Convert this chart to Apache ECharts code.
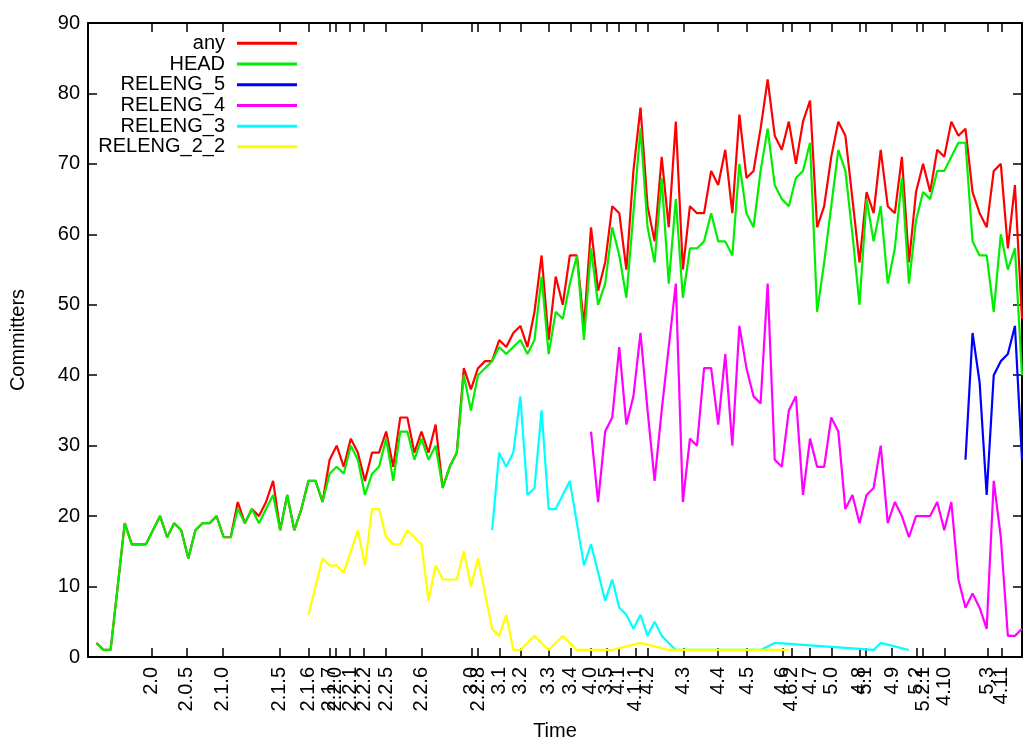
<!DOCTYPE html>
<html>
<head>
<meta charset="utf-8">
<script src="https://cdn.jsdelivr.net/npm/echarts@6/dist/echarts.min.js"></script>
<style>
html,body{margin:0;padding:0;background:#fff;}
#c{width:1035px;height:740px;}
</style>
</head>
<body>
<div id="c"></div>
<script>
// x = month index (one point per month), release ticks placed on the same month scale
const releaseNames = ['2.0','2.0.5','2.1.0','2.1.5','2.1.6','2.1.7','2.2.0','2.2.1','2.2.2','2.2.5','2.2.6','3.0','2.2.8','3.1','3.2','3.3','3.4','4.0','3.5','4.1','4.1.1','4.2','4.3','4.4','4.5','4.6','4.6.2','4.7','5.0','4.8','5.1','4.9','5.2','5.2.1','4.10','5.3','4.11'];
const releaseAt = [7.8,12.8,17.9,25.9,30.0,33.0,33.9,35.9,37.9,41.0,46.0,53.1,54.0,57.1,60.0,64.0,67.1,69.9,72.2,73.9,76.3,78.0,83.1,88.0,92.1,97.1,98.4,101.0,104.1,108.0,108.9,112.6,116.1,117.0,120.0,126.1,128.1];

const yTicks = [0,10,20,30,40,50,60,70,80,90];

const anyStart = 0;
const anyCommitters = [
 2,1,1,10,19,16,16,16,18,20,
 17,19,18,14,18,19,19,20,17,17,
 22,19,21,20,22,25,18,23,18,21,
 25,25,22,28,30,27,31,29,25,29,
 29,32,27,34,34,29,32,29,33,24,
 27,29,41,38,41,42,42,45,44,46,
 47,44,49,57,45,54,50,57,57,47,
 61,52,56,64,63,55,69,78,64,59,
 71,61,76,55,64,63,63,69,67,72,
 63,77,68,69,75,82,74,72,76,70,
 76,79,61,64,71,76,74,65,56,66,
 63,72,64,63,71,56,66,70,66,72,
 71,76,74,75,66,63,61,69,70,58,
 67,48];

const headStart = 0;
const headCommitters = [
 2,1,1,10,19,16,16,16,18,20,
 17,19,18,14,18,19,19,20,17,17,
 21,19,21,19,21,23,18,23,18,21,
 25,25,22,26,27,26,30,28,23,26,
 27,31,25,32,32,28,31,28,30,24,
 27,29,40,35,40,41,42,44,43,44,
 45,43,45,54,43,49,48,53,57,45,
 58,50,53,61,57,51,63,75,61,56,
 68,53,65,51,58,58,59,63,59,59,
 57,70,63,61,69,75,67,65,64,68,
 69,73,49,56,64,72,69,60,50,65,
 59,64,53,58,68,53,62,66,65,69,
 69,71,73,73,59,57,57,49,60,55,
 58,40];

const releng5Start = 123;
const releng5 = [28,46,39,23,40,42,43,47,28];

const releng4Start = 70;
const releng4 = [
 32,22,32,34,44,33,37,46,35,25,
 35,44,53,22,31,30,41,41,33,43,
 30,47,41,37,36,53,28,27,35,37,
 23,31,27,27,34,32,21,23,19,23,
 24,30,19,22,20,17,20,20,20,22,
 18,22,11,7,9,7,4,25,17,3,
 3,4];

const releng3Start = 56;
const releng3 = [
 18,29,27,29,37,23,24,35,21,21,
 23,25,19,13,16,12,8,11,7,6,
 4,6,3,5,3,2,1,1,1,1,
 1,1,1,1,1,1,1,1,1,null,
 2,null,null,null,null,null,null,null,null,null,
 null,null,null,null,1,2,null,null,null,1];

const releng22Start = 30;
const releng22 = [
 6,10,14,13,13,12,15,18,13,21,
 21,17,16,16,18,17,16,8,13,11,
 11,11,15,10,14,9,4,3,6,1,
 1,2,3,2,1,2,3,2,1,1,
 1,1,1,1,null,null,null,2,null,null,
 null,1,1,1,1,1,1,1,1,1,
 1,1,1,1,1,1,1,1,1];

const FONT = "'Liberation Sans', Arial, Helvetica, sans-serif";
const X_MIN = -1.2, X_MAX = 131;

function pairs(start, arr) { return arr.map((v, k) => [start + k, v]); }

function lineSeries(name, color, start, arr) {
  return {
    type: 'line', name: name, data: pairs(start, arr),
    symbol: 'none', showSymbol: false, connectNulls: true,
    lineStyle: { color: color, width: 2.2 },
    itemStyle: { color: color },
    emphasis: { disabled: true },
    animation: false
  };
}

function xAxisDef(pos, showLabels) {
  const a = {
    type: 'value', position: pos, min: X_MIN, max: X_MAX,
    axisLine: { show: true, onZero: false, lineStyle: { color: '#000', width: 2 } },
    splitLine: { show: false },
    axisTick: { show: true, inside: true, length: 9, customValues: releaseAt.slice(), lineStyle: { color: '#000', width: 1.5 } },
    axisLabel: { show: false }
  };
  if (showLabels) {
    a.axisLabel = {
      show: true,
      // an empty label at the axis end keeps every release label an inner one
      customValues: releaseAt.concat([X_MAX]), rotate: 90, margin: 10,
      hideOverlap: false,
      fontSize: 20, color: '#000', fontFamily: FONT,
      formatter: function (v) { const k = releaseAt.indexOf(v); return k >= 0 ? releaseNames[k] : ''; }
    };
    a.name = 'Time';
    a.nameLocation = 'middle';
    a.nameGap = 64;
    a.nameTextStyle = { fontSize: 20, color: '#000', fontFamily: FONT };
  }
  return a;
}

function yAxisDef(pos, showLabels) {
  const a = {
    type: 'value', position: pos, min: 0, max: 90, interval: 10,
    axisLine: { show: true, onZero: false, lineStyle: { color: '#000', width: 2 } },
    splitLine: { show: false },
    axisTick: { show: true, inside: true, length: 9, lineStyle: { color: '#000', width: 1.5 } },
    axisLabel: { show: showLabels, fontSize: 20, color: '#000', fontFamily: FONT, margin: 8,
      showMinLabel: true, showMaxLabel: true,
      formatter: function (v) { return yTicks.indexOf(v) >= 0 ? String(v) : ''; } }
  };
  if (showLabels) {
    a.name = 'Committers';
    a.nameLocation = 'middle';
    a.nameRotate = 90;
    a.nameGap = 60;
    a.nameTextStyle = { fontSize: 20, color: '#000', fontFamily: FONT };
  }
  return a;
}

const chart = echarts.init(document.getElementById('c'), null, { renderer: 'canvas' });
chart.setOption({
  backgroundColor: '#fff',
  animation: false,
  grid: { left: 88, right: 13, top: 23, bottom: 83, containLabel: false, outerBoundsMode: 'none' },
  legend: {
    orient: 'vertical', align: 'right',
    right: 738, top: 33, padding: 0, itemGap: 0,
    itemWidth: 60, itemHeight: 3, icon: 'rect',
    selectedMode: false,
    textStyle: { fontSize: 20, color: '#000', fontFamily: FONT, lineHeight: 20.7, padding: [0, 7, 0, 0] },
    data: ['any', 'HEAD', 'RELENG_5', 'RELENG_4', 'RELENG_3', 'RELENG_2_2']
  },
  xAxis: [xAxisDef('bottom', true), xAxisDef('top', false)],
  yAxis: [yAxisDef('left', true), yAxisDef('right', false)],
  series: [
    lineSeries('any', '#ff0000', anyStart, anyCommitters),
    lineSeries('HEAD', '#00ee00', headStart, headCommitters),
    lineSeries('RELENG_5', '#0000ff', releng5Start, releng5),
    lineSeries('RELENG_4', '#ff00ff', releng4Start, releng4),
    lineSeries('RELENG_3', '#00ffff', releng3Start, releng3),
    lineSeries('RELENG_2_2', '#ffff00', releng22Start, releng22)
  ]
});
</script>
</body>
</html>
